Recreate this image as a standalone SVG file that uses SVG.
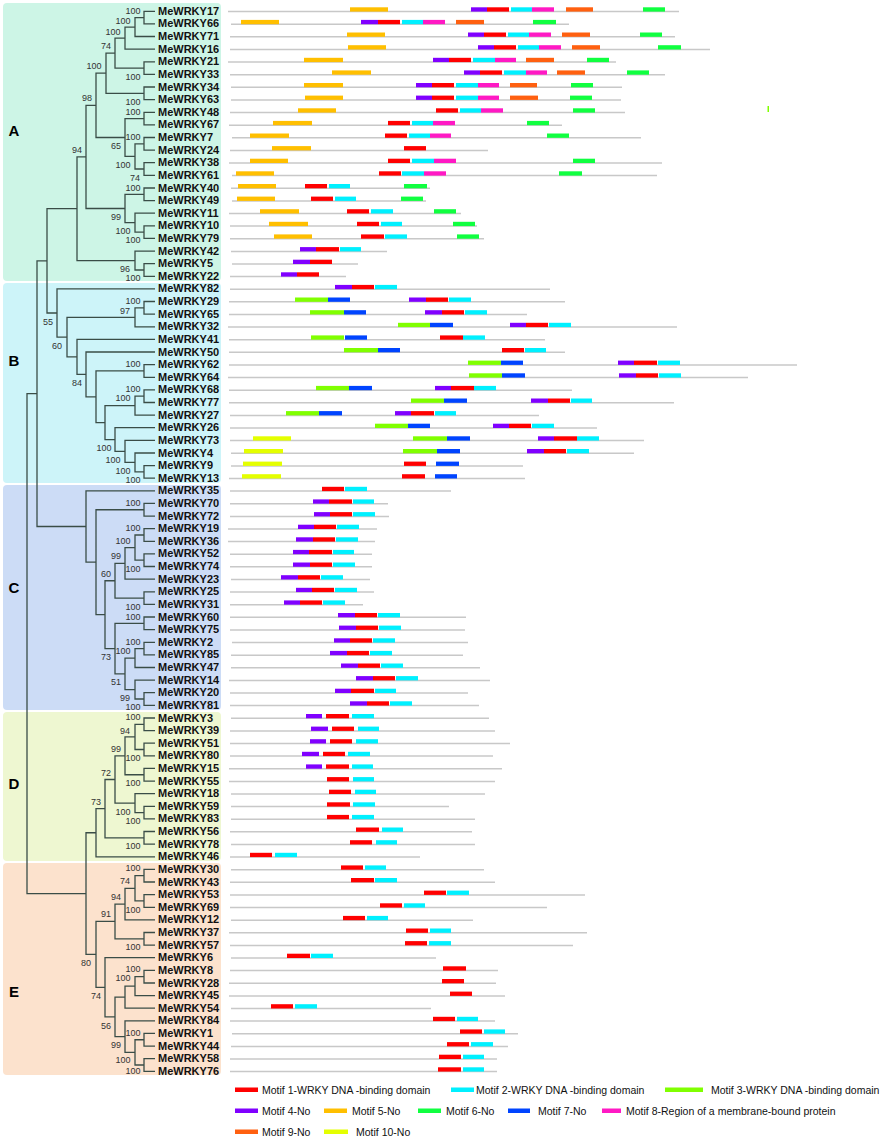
<svg xmlns="http://www.w3.org/2000/svg" width="884" height="1138" viewBox="0 0 884 1138">
<style>
.ln{stroke:#c8c8c8;stroke-width:1.5;fill:none}
.tr{stroke:#3a4d47;stroke-width:1.3;fill:none}
.lb{font-family:"Liberation Sans",Arial,sans-serif;font-weight:bold;font-size:11px;fill:#111}
.bs{font-family:"Liberation Sans",Arial,sans-serif;font-size:9px;fill:#333;text-anchor:middle}
.gl{font-family:"Liberation Sans",Arial,sans-serif;font-weight:bold;font-size:15px;fill:#000;text-anchor:middle}
.lg{font-family:"Liberation Sans",Arial,sans-serif;font-size:10.5px;fill:#111}
.m1{fill:#ff0000}.m2{fill:#00f0ff}.m3{fill:#80ff00}.m4{fill:#8000ff}.m5{fill:#ffbf00}
.m6{fill:#10ff40}.m7{fill:#0044ff}.m8{fill:#ff19c4}.m9{fill:#ff6010}.m10{fill:#e4ff00}
</style>
<g id="panels">
<rect x="3" y="3" width="218" height="278" rx="4" fill="#cdf5e6"/>
<rect x="3" y="283" width="218" height="200" rx="4" fill="#cdf4f9"/>
<rect x="3" y="485" width="218" height="225" rx="4" fill="#ccdcf6"/>
<rect x="3" y="712" width="218" height="149" rx="4" fill="#eef7d1"/>
<rect x="3" y="863" width="218" height="212" rx="4" fill="#fce2cd"/>
<text class="gl" x="14" y="135.5">A</text>
<text class="gl" x="14" y="365.5">B</text>
<text class="gl" x="14" y="592.5">C</text>
<text class="gl" x="14" y="788.5">D</text>
<text class="gl" x="14" y="996.5">E</text>
</g>
<g id="connectors" class="tr">
<path d="M155 11.3H144V23.9H155M144 17.6H135V36.5H155M135 27.05H125V49.2H155M155 61.8H144V74.4H155M125 38.1H115V68.1H144M155 87H144V99.6H155M115 53.1H106V93.3H144M155 112.3H144V124.9H155M155 137.5H144V150.1H155M155 162.7H144V175.3H155M144 143.8H135V169H144M144 118.6H125V156.4H135M106 73.2H96V137.5H125M155 188H144V200.6H155M155 225.8H144V238.4H155M155 213.2H135V232.1H144M144 194.3H125V222.65H135M96 105.35H86V208.5H125M155 263.7H144V276.3H155M155 251.1H135V270H144M86 156.9H77V260.55H135"/>
<path d="M155 301.5H144V314.2H155M144 307.85H135V326.8H155M155 364.6H144V377.3H155M155 389.9H144V402.5H155M144 396.2H135V415.1H155M155 465.6H144V478.2H155M155 453H135V471.9H144M155 440.3H125V462.45H135M155 427.7H115V451.4H125M135 405.65H105V439.55H115M144 370.95H96V422.6H105M155 352H86V396.8H96M155 339.4H77V374.4H86M135 317.3H67V356.9H77M155 288.9H57V337.1H67M77 208.7H47V313H57"/>
<path d="M155 503.4H144V516.1H155M155 528.7H144V541.3H155M155 553.9H144V566.5H155M144 535H135V560.2H144M135 547.6H125V579.2H155M155 591.8H144V604.4H155M125 563.4H115V598.1H144M155 617H144V629.6H155M155 642.3H144V654.9H155M144 648.6H135V667.5H155M155 692.7H144V705.3H155M155 680.1H135V699H144M135 658.05H125V689.55H135M144 623.3H115V673.8H125M115 580.75H105V648.55H115M144 509.75H96V614.65H105M155 490.8H86V562.2H96M47 260.85H37V526.5H86"/>
<path d="M155 718H144V730.6H155M155 743.2H144V755.8H155M144 724.3H135V749.5H144M135 736.9H125V774.75H144M155 768.4H144V781.1H155M155 806.3H144V818.9H155M155 793.7H135V812.6H144M125 755.8H115V803.15H135M155 831.5H144V844.2H155M115 779.5H105V837.85H144M105 808.7H96V856.8H155"/>
<path d="M155 869.4H144V882H155M155 894.6H144V907.3H155M144 875.7H135V900.95H144M135 888.3H125V919.9H155M155 932.5H144V945.1H155M125 904.1H115V938.8H144M155 970.3H144V983H155M144 976.65H135V995.6H155M135 986.1H125V1008.2H155M155 1033.4H144V1046.1H155M155 1058.7H144V1071.3H155M144 1039.75H135V1065H144M155 1020.8H125V1052.4H135M125 997.15H115V1036.6H125M155 957.7H105V1016.9H115M115 921.45H96V987.3H105M96 832.75H86V954.4H96M37 393.7H27V893.6H86"/>
</g>
<g id="support">
<text class="bs" x="133" y="14">100</text><text class="bs" x="123" y="24">100</text><text class="bs" x="113" y="35">100</text><text class="bs" x="106" y="49">74</text><text class="bs" x="94" y="69">100</text><text class="bs" x="133" y="80">100</text><text class="bs" x="87" y="101">98</text><text class="bs" x="133" y="105">100</text><text class="bs" x="133" y="115">100</text><text class="bs" x="77" y="153">94</text><text class="bs" x="116" y="149">65</text><text class="bs" x="133" y="140">100</text><text class="bs" x="123" y="168">100</text><text class="bs" x="135" y="181">74</text><text class="bs" x="133" y="191">100</text><text class="bs" x="116" y="220">99</text><text class="bs" x="123" y="234">100</text><text class="bs" x="133" y="243">100</text><text class="bs" x="125" y="272">96</text><text class="bs" x="133" y="281">100</text>
<text class="bs" x="133" y="304">100</text><text class="bs" x="125" y="314">97</text><text class="bs" x="48" y="325">55</text><text class="bs" x="57" y="349">60</text><text class="bs" x="133" y="367">100</text><text class="bs" x="77" y="386">84</text><text class="bs" x="133" y="392">100</text><text class="bs" x="123" y="401">100</text><text class="bs" x="104" y="451">100</text><text class="bs" x="113" y="463">100</text><text class="bs" x="123" y="474">100</text><text class="bs" x="133" y="483">100</text>
<text class="bs" x="133" y="506">100</text><text class="bs" x="133" y="531">100</text><text class="bs" x="123" y="544">100</text><text class="bs" x="116" y="559">99</text><text class="bs" x="106" y="577">60</text><text class="bs" x="133" y="572">100</text><text class="bs" x="133" y="610">100</text><text class="bs" x="133" y="620">100</text><text class="bs" x="133" y="645">100</text><text class="bs" x="123" y="654">100</text><text class="bs" x="106" y="660">73</text><text class="bs" x="116" y="685">51</text><text class="bs" x="125" y="701">99</text><text class="bs" x="133" y="710">100</text>
<text class="bs" x="133" y="720">100</text><text class="bs" x="125" y="734">94</text><text class="bs" x="116" y="752">99</text><text class="bs" x="133" y="761">100</text><text class="bs" x="106" y="776">72</text><text class="bs" x="133" y="786">100</text><text class="bs" x="96" y="805">73</text><text class="bs" x="123" y="815">100</text><text class="bs" x="133" y="824">100</text><text class="bs" x="133" y="849">100</text>
<text class="bs" x="133" y="871">100</text><text class="bs" x="125" y="884">74</text><text class="bs" x="116" y="900">94</text><text class="bs" x="133" y="913">100</text><text class="bs" x="106" y="917">91</text><text class="bs" x="133" y="950">100</text><text class="bs" x="86" y="966">80</text><text class="bs" x="133" y="972">100</text><text class="bs" x="123" y="981">100</text><text class="bs" x="96" y="999">74</text><text class="bs" x="106" y="1029">56</text><text class="bs" x="133" y="1036">100</text><text class="bs" x="116" y="1048">99</text><text class="bs" x="123" y="1063">100</text><text class="bs" x="133" y="1074">100</text>
</g>
<g id="MeWRKY17" transform="translate(0,10.8)"><text class="lb" x="158" y="4">MeWRKY17</text><path class="ln" d="M228 .8H679"/><rect class="m5" x="350" y="-3.5" width="38" height="4.3"/><rect class="m4" x="471" y="-3.5" width="16" height="4.3"/><rect class="m1" x="487" y="-3.5" width="22" height="4.3"/><rect class="m2" x="511" y="-3.5" width="21" height="4.3"/><rect class="m8" x="532" y="-3.5" width="22" height="4.3"/><rect class="m9" x="566" y="-3.5" width="27" height="4.3"/><rect class="m6" x="643" y="-3.5" width="22" height="4.3"/></g>
<g id="MeWRKY66" transform="translate(0,23.4)"><text class="lb" x="158" y="4">MeWRKY66</text><path class="ln" d="M231 .8H569"/><rect class="m5" x="241" y="-3.5" width="38" height="4.3"/><rect class="m4" x="361" y="-3.5" width="17" height="4.3"/><rect class="m1" x="378" y="-3.5" width="22" height="4.3"/><rect class="m2" x="402" y="-3.5" width="21" height="4.3"/><rect class="m8" x="423" y="-3.5" width="22" height="4.3"/><rect class="m9" x="456" y="-3.5" width="28" height="4.3"/><rect class="m6" x="533" y="-3.5" width="23" height="4.3"/></g>
<g id="MeWRKY71" transform="translate(0,36)"><text class="lb" x="158" y="4">MeWRKY71</text><path class="ln" d="M230 .8H675"/><rect class="m5" x="347" y="-3.5" width="38" height="4.3"/><rect class="m4" x="468" y="-3.5" width="16" height="4.3"/><rect class="m1" x="484" y="-3.5" width="22" height="4.3"/><rect class="m2" x="508" y="-3.5" width="21" height="4.3"/><rect class="m8" x="529" y="-3.5" width="22" height="4.3"/><rect class="m9" x="562" y="-3.5" width="28" height="4.3"/><rect class="m6" x="640" y="-3.5" width="22" height="4.3"/></g>
<g id="MeWRKY16" transform="translate(0,48.7)"><text class="lb" x="158" y="4">MeWRKY16</text><path class="ln" d="M230 .8H710"/><rect class="m5" x="348" y="-3.5" width="38" height="4.3"/><rect class="m4" x="478" y="-3.5" width="16" height="4.3"/><rect class="m1" x="494" y="-3.5" width="22" height="4.3"/><rect class="m2" x="518" y="-3.5" width="21" height="4.3"/><rect class="m8" x="539" y="-3.5" width="22" height="4.3"/><rect class="m9" x="572" y="-3.5" width="28" height="4.3"/><rect class="m6" x="658" y="-3.5" width="23" height="4.3"/></g>
<g id="MeWRKY21" transform="translate(0,61.3)"><text class="lb" x="158" y="4">MeWRKY21</text><path class="ln" d="M228 .8H616"/><rect class="m5" x="304" y="-3.5" width="39" height="4.3"/><rect class="m4" x="433" y="-3.5" width="16" height="4.3"/><rect class="m1" x="449" y="-3.5" width="22" height="4.3"/><rect class="m2" x="473" y="-3.5" width="22" height="4.3"/><rect class="m8" x="495" y="-3.5" width="21" height="4.3"/><rect class="m9" x="526" y="-3.5" width="28" height="4.3"/><rect class="m6" x="587" y="-3.5" width="22" height="4.3"/></g>
<g id="MeWRKY33" transform="translate(0,73.9)"><text class="lb" x="158" y="4">MeWRKY33</text><path class="ln" d="M230 .8H665"/><rect class="m5" x="332" y="-3.5" width="39" height="4.3"/><rect class="m4" x="464" y="-3.5" width="16" height="4.3"/><rect class="m1" x="480" y="-3.5" width="22" height="4.3"/><rect class="m2" x="504" y="-3.5" width="22" height="4.3"/><rect class="m8" x="526" y="-3.5" width="21" height="4.3"/><rect class="m9" x="557" y="-3.5" width="28" height="4.3"/><rect class="m6" x="627" y="-3.5" width="22" height="4.3"/></g>
<g id="MeWRKY34" transform="translate(0,86.5)"><text class="lb" x="158" y="4">MeWRKY34</text><path class="ln" d="M231 .8H622"/><rect class="m5" x="304" y="-3.5" width="39" height="4.3"/><rect class="m4" x="416" y="-3.5" width="16" height="4.3"/><rect class="m1" x="432" y="-3.5" width="22" height="4.3"/><rect class="m2" x="456" y="-3.5" width="22" height="4.3"/><rect class="m8" x="478" y="-3.5" width="21" height="4.3"/><rect class="m9" x="510" y="-3.5" width="27" height="4.3"/><rect class="m6" x="571" y="-3.5" width="22" height="4.3"/></g>
<g id="MeWRKY63" transform="translate(0,99.1)"><text class="lb" x="158" y="4">MeWRKY63</text><path class="ln" d="M231 .8H621"/><rect class="m5" x="305" y="-3.5" width="38" height="4.3"/><rect class="m4" x="416" y="-3.5" width="16" height="4.3"/><rect class="m1" x="432" y="-3.5" width="22" height="4.3"/><rect class="m2" x="456" y="-3.5" width="22" height="4.3"/><rect class="m8" x="478" y="-3.5" width="21" height="4.3"/><rect class="m9" x="510" y="-3.5" width="28" height="4.3"/><rect class="m6" x="570" y="-3.5" width="22" height="4.3"/></g>
<g id="MeWRKY48" transform="translate(0,111.8)"><text class="lb" x="158" y="4">MeWRKY48</text><path class="ln" d="M230 .8H625"/><rect class="m5" x="298" y="-3.5" width="38" height="4.3"/><rect class="m1" x="436" y="-3.5" width="22" height="4.3"/><rect class="m2" x="460" y="-3.5" width="21" height="4.3"/><rect class="m8" x="481" y="-3.5" width="22" height="4.3"/><rect class="m6" x="573" y="-3.5" width="22" height="4.3"/></g>
<g id="MeWRKY67" transform="translate(0,124.4)"><text class="lb" x="158" y="4">MeWRKY67</text><path class="ln" d="M229 .8H562"/><rect class="m5" x="273" y="-3.5" width="39" height="4.3"/><rect class="m1" x="388" y="-3.5" width="22" height="4.3"/><rect class="m2" x="412" y="-3.5" width="21" height="4.3"/><rect class="m8" x="433" y="-3.5" width="22" height="4.3"/><rect class="m6" x="527" y="-3.5" width="22" height="4.3"/></g>
<g id="MeWRKY7" transform="translate(0,137)"><text class="lb" x="158" y="4">MeWRKY7</text><path class="ln" d="M232 .8H641"/><rect class="m5" x="250" y="-3.5" width="39" height="4.3"/><rect class="m1" x="385" y="-3.5" width="22" height="4.3"/><rect class="m2" x="409" y="-3.5" width="21" height="4.3"/><rect class="m8" x="430" y="-3.5" width="21" height="4.3"/><rect class="m6" x="547" y="-3.5" width="22" height="4.3"/></g>
<g id="MeWRKY24" transform="translate(0,149.6)"><text class="lb" x="158" y="4">MeWRKY24</text><path class="ln" d="M230 .8H488"/><rect class="m5" x="272" y="-3.5" width="39" height="4.3"/><rect class="m1" x="404" y="-3.5" width="22" height="4.3"/></g>
<g id="MeWRKY38" transform="translate(0,162.2)"><text class="lb" x="158" y="4">MeWRKY38</text><path class="ln" d="M229 .8H662"/><rect class="m5" x="250" y="-3.5" width="38" height="4.3"/><rect class="m1" x="388" y="-3.5" width="22" height="4.3"/><rect class="m2" x="412" y="-3.5" width="22" height="4.3"/><rect class="m8" x="434" y="-3.5" width="22" height="4.3"/><rect class="m6" x="573" y="-3.5" width="22" height="4.3"/></g>
<g id="MeWRKY61" transform="translate(0,174.8)"><text class="lb" x="158" y="4">MeWRKY61</text><path class="ln" d="M232 .8H657"/><rect class="m5" x="236" y="-3.5" width="38" height="4.3"/><rect class="m1" x="379" y="-3.5" width="22" height="4.3"/><rect class="m2" x="402" y="-3.5" width="22" height="4.3"/><rect class="m8" x="424" y="-3.5" width="22" height="4.3"/><rect class="m6" x="559" y="-3.5" width="23" height="4.3"/></g>
<g id="MeWRKY40" transform="translate(0,187.5)"><text class="lb" x="158" y="4">MeWRKY40</text><path class="ln" d="M231 .8H430"/><rect class="m5" x="238" y="-3.5" width="38" height="4.3"/><rect class="m1" x="305" y="-3.5" width="22" height="4.3"/><rect class="m2" x="329" y="-3.5" width="21" height="4.3"/><rect class="m6" x="404" y="-3.5" width="23" height="4.3"/></g>
<g id="MeWRKY49" transform="translate(0,200.1)"><text class="lb" x="158" y="4">MeWRKY49</text><path class="ln" d="M232 .8H426"/><rect class="m5" x="237" y="-3.5" width="38" height="4.3"/><rect class="m1" x="311" y="-3.5" width="22" height="4.3"/><rect class="m2" x="335" y="-3.5" width="21" height="4.3"/><rect class="m6" x="401" y="-3.5" width="22" height="4.3"/></g>
<g id="MeWRKY11" transform="translate(0,212.7)"><text class="lb" x="158" y="4">MeWRKY11</text><path class="ln" d="M229 .8H461"/><rect class="m5" x="260" y="-3.5" width="39" height="4.3"/><rect class="m1" x="347" y="-3.5" width="22" height="4.3"/><rect class="m2" x="371" y="-3.5" width="22" height="4.3"/><rect class="m6" x="434" y="-3.5" width="22" height="4.3"/></g>
<g id="MeWRKY10" transform="translate(0,225.3)"><text class="lb" x="158" y="4">MeWRKY10</text><path class="ln" d="M230 .8H477"/><rect class="m5" x="269" y="-3.5" width="39" height="4.3"/><rect class="m1" x="357" y="-3.5" width="22" height="4.3"/><rect class="m2" x="381" y="-3.5" width="21" height="4.3"/><rect class="m6" x="453" y="-3.5" width="22" height="4.3"/></g>
<g id="MeWRKY79" transform="translate(0,237.9)"><text class="lb" x="158" y="4">MeWRKY79</text><path class="ln" d="M230 .8H484"/><rect class="m5" x="274" y="-3.5" width="38" height="4.3"/><rect class="m1" x="361" y="-3.5" width="23" height="4.3"/><rect class="m2" x="385" y="-3.5" width="22" height="4.3"/><rect class="m6" x="457" y="-3.5" width="22" height="4.3"/></g>
<g id="MeWRKY42" transform="translate(0,250.6)"><text class="lb" x="158" y="4">MeWRKY42</text><path class="ln" d="M231 .8H387"/><rect class="m4" x="300" y="-3.5" width="16" height="4.3"/><rect class="m1" x="316" y="-3.5" width="23" height="4.3"/><rect class="m2" x="340" y="-3.5" width="21" height="4.3"/></g>
<g id="MeWRKY5" transform="translate(0,263.2)"><text class="lb" x="158" y="4">MeWRKY5</text><path class="ln" d="M232 .8H358"/><rect class="m4" x="293" y="-3.5" width="17" height="4.3"/><rect class="m1" x="310" y="-3.5" width="22" height="4.3"/></g>
<g id="MeWRKY22" transform="translate(0,275.8)"><text class="lb" x="158" y="4">MeWRKY22</text><path class="ln" d="M230 .8H346"/><rect class="m4" x="281" y="-3.5" width="16" height="4.3"/><rect class="m1" x="297" y="-3.5" width="22" height="4.3"/></g>
<g id="MeWRKY82" transform="translate(0,288.4)"><text class="lb" x="158" y="4">MeWRKY82</text><path class="ln" d="M230 .8H550"/><rect class="m4" x="335" y="-3.5" width="17" height="4.3"/><rect class="m1" x="352" y="-3.5" width="22" height="4.3"/><rect class="m2" x="375" y="-3.5" width="22" height="4.3"/></g>
<g id="MeWRKY29" transform="translate(0,301)"><text class="lb" x="158" y="4">MeWRKY29</text><path class="ln" d="M229 .8H565"/><rect class="m3" x="295" y="-3.5" width="33" height="4.3"/><rect class="m7" x="328" y="-3.5" width="22" height="4.3"/><rect class="m4" x="409" y="-3.5" width="17" height="4.3"/><rect class="m1" x="426" y="-3.5" width="22" height="4.3"/><rect class="m2" x="449" y="-3.5" width="22" height="4.3"/></g>
<g id="MeWRKY65" transform="translate(0,313.7)"><text class="lb" x="158" y="4">MeWRKY65</text><path class="ln" d="M229 .8H527"/><rect class="m3" x="310" y="-3.5" width="34" height="4.3"/><rect class="m7" x="344" y="-3.5" width="22" height="4.3"/><rect class="m4" x="425" y="-3.5" width="17" height="4.3"/><rect class="m1" x="442" y="-3.5" width="22" height="4.3"/><rect class="m2" x="465" y="-3.5" width="22" height="4.3"/></g>
<g id="MeWRKY32" transform="translate(0,326.3)"><text class="lb" x="158" y="4">MeWRKY32</text><path class="ln" d="M228 .8H677"/><rect class="m3" x="398" y="-3.5" width="32" height="4.3"/><rect class="m7" x="430" y="-3.5" width="23" height="4.3"/><rect class="m4" x="510" y="-3.5" width="16" height="4.3"/><rect class="m1" x="526" y="-3.5" width="22" height="4.3"/><rect class="m2" x="549" y="-3.5" width="22" height="4.3"/></g>
<g id="MeWRKY41" transform="translate(0,338.9)"><text class="lb" x="158" y="4">MeWRKY41</text><path class="ln" d="M229 .8H545"/><rect class="m3" x="311" y="-3.5" width="33" height="4.3"/><rect class="m7" x="345" y="-3.5" width="22" height="4.3"/><rect class="m1" x="440" y="-3.5" width="23" height="4.3"/><rect class="m2" x="463" y="-3.5" width="22" height="4.3"/></g>
<g id="MeWRKY50" transform="translate(0,351.5)"><text class="lb" x="158" y="4">MeWRKY50</text><path class="ln" d="M229 .8H565"/><rect class="m3" x="344" y="-3.5" width="34" height="4.3"/><rect class="m7" x="378" y="-3.5" width="22" height="4.3"/><rect class="m1" x="502" y="-3.5" width="22" height="4.3"/><rect class="m2" x="525" y="-3.5" width="21" height="4.3"/></g>
<g id="MeWRKY62" transform="translate(0,364.1)"><text class="lb" x="158" y="4">MeWRKY62</text><path class="ln" d="M229 .8H797"/><rect class="m3" x="468" y="-3.5" width="33" height="4.3"/><rect class="m7" x="501" y="-3.5" width="22" height="4.3"/><rect class="m4" x="618" y="-3.5" width="16" height="4.3"/><rect class="m1" x="634" y="-3.5" width="23" height="4.3"/><rect class="m2" x="658" y="-3.5" width="22" height="4.3"/></g>
<g id="MeWRKY64" transform="translate(0,376.8)"><text class="lb" x="158" y="4">MeWRKY64</text><path class="ln" d="M228 .8H748"/><rect class="m3" x="469" y="-3.5" width="33" height="4.3"/><rect class="m7" x="502" y="-3.5" width="23" height="4.3"/><rect class="m4" x="619" y="-3.5" width="17" height="4.3"/><rect class="m1" x="636" y="-3.5" width="22" height="4.3"/><rect class="m2" x="659" y="-3.5" width="22" height="4.3"/></g>
<g id="MeWRKY68" transform="translate(0,389.4)"><text class="lb" x="158" y="4">MeWRKY68</text><path class="ln" d="M229 .8H572"/><rect class="m3" x="316" y="-3.5" width="33" height="4.3"/><rect class="m7" x="349" y="-3.5" width="23" height="4.3"/><rect class="m4" x="435" y="-3.5" width="16" height="4.3"/><rect class="m1" x="451" y="-3.5" width="23" height="4.3"/><rect class="m2" x="474" y="-3.5" width="22" height="4.3"/></g>
<g id="MeWRKY77" transform="translate(0,402)"><text class="lb" x="158" y="4">MeWRKY77</text><path class="ln" d="M229 .8H674"/><rect class="m3" x="411" y="-3.5" width="33" height="4.3"/><rect class="m7" x="444" y="-3.5" width="23" height="4.3"/><rect class="m4" x="531" y="-3.5" width="17" height="4.3"/><rect class="m1" x="548" y="-3.5" width="22" height="4.3"/><rect class="m2" x="571" y="-3.5" width="21" height="4.3"/></g>
<g id="MeWRKY27" transform="translate(0,414.6)"><text class="lb" x="158" y="4">MeWRKY27</text><path class="ln" d="M230 .8H539"/><rect class="m3" x="286" y="-3.5" width="33" height="4.3"/><rect class="m7" x="319" y="-3.5" width="23" height="4.3"/><rect class="m4" x="395" y="-3.5" width="16" height="4.3"/><rect class="m1" x="411" y="-3.5" width="23" height="4.3"/><rect class="m2" x="435" y="-3.5" width="21" height="4.3"/></g>
<g id="MeWRKY26" transform="translate(0,427.2)"><text class="lb" x="158" y="4">MeWRKY26</text><path class="ln" d="M230 .8H597"/><rect class="m3" x="375" y="-3.5" width="33" height="4.3"/><rect class="m7" x="408" y="-3.5" width="22" height="4.3"/><rect class="m4" x="493" y="-3.5" width="16" height="4.3"/><rect class="m1" x="509" y="-3.5" width="22" height="4.3"/><rect class="m2" x="532" y="-3.5" width="22" height="4.3"/></g>
<g id="MeWRKY73" transform="translate(0,439.8)"><text class="lb" x="158" y="4">MeWRKY73</text><path class="ln" d="M230 .8H644"/><rect class="m10" x="253" y="-3.5" width="38" height="4.3"/><rect class="m3" x="413" y="-3.5" width="34" height="4.3"/><rect class="m7" x="447" y="-3.5" width="23" height="4.3"/><rect class="m4" x="538" y="-3.5" width="16" height="4.3"/><rect class="m1" x="554" y="-3.5" width="23" height="4.3"/><rect class="m2" x="577" y="-3.5" width="22" height="4.3"/></g>
<g id="MeWRKY4" transform="translate(0,452.5)"><text class="lb" x="158" y="4">MeWRKY4</text><path class="ln" d="M231 .8H634"/><rect class="m10" x="244" y="-3.5" width="39" height="4.3"/><rect class="m3" x="403" y="-3.5" width="34" height="4.3"/><rect class="m7" x="437" y="-3.5" width="23" height="4.3"/><rect class="m4" x="527" y="-3.5" width="17" height="4.3"/><rect class="m1" x="544" y="-3.5" width="22" height="4.3"/><rect class="m2" x="567" y="-3.5" width="22" height="4.3"/></g>
<g id="MeWRKY9" transform="translate(0,465.1)"><text class="lb" x="158" y="4">MeWRKY9</text><path class="ln" d="M231 .8H523"/><rect class="m10" x="243" y="-3.5" width="39" height="4.3"/><rect class="m1" x="404" y="-3.5" width="22" height="4.3"/><rect class="m7" x="436" y="-3.5" width="23" height="4.3"/></g>
<g id="MeWRKY13" transform="translate(0,477.7)"><text class="lb" x="158" y="4">MeWRKY13</text><path class="ln" d="M229 .8H525"/><rect class="m10" x="242" y="-3.5" width="39" height="4.3"/><rect class="m1" x="402" y="-3.5" width="23" height="4.3"/><rect class="m7" x="435" y="-3.5" width="22" height="4.3"/></g>
<g id="MeWRKY35" transform="translate(0,490.3)"><text class="lb" x="158" y="4">MeWRKY35</text><path class="ln" d="M230 .8H451"/><rect class="m1" x="322" y="-3.5" width="22" height="4.3"/><rect class="m2" x="345" y="-3.5" width="22" height="4.3"/></g>
<g id="MeWRKY70" transform="translate(0,502.9)"><text class="lb" x="158" y="4">MeWRKY70</text><path class="ln" d="M230 .8H388"/><rect class="m4" x="313" y="-3.5" width="16" height="4.3"/><rect class="m1" x="329" y="-3.5" width="23" height="4.3"/><rect class="m2" x="353" y="-3.5" width="21" height="4.3"/></g>
<g id="MeWRKY72" transform="translate(0,515.6)"><text class="lb" x="158" y="4">MeWRKY72</text><path class="ln" d="M230 .8H389"/><rect class="m4" x="314" y="-3.5" width="16" height="4.3"/><rect class="m1" x="330" y="-3.5" width="22" height="4.3"/><rect class="m2" x="353" y="-3.5" width="22" height="4.3"/></g>
<g id="MeWRKY19" transform="translate(0,528.2)"><text class="lb" x="158" y="4">MeWRKY19</text><path class="ln" d="M228 .8H377"/><rect class="m4" x="298" y="-3.5" width="16" height="4.3"/><rect class="m1" x="314" y="-3.5" width="22" height="4.3"/><rect class="m2" x="337" y="-3.5" width="22" height="4.3"/></g>
<g id="MeWRKY36" transform="translate(0,540.8)"><text class="lb" x="158" y="4">MeWRKY36</text><path class="ln" d="M228 .8H375"/><rect class="m4" x="296" y="-3.5" width="17" height="4.3"/><rect class="m1" x="313" y="-3.5" width="22" height="4.3"/><rect class="m2" x="336" y="-3.5" width="22" height="4.3"/></g>
<g id="MeWRKY52" transform="translate(0,553.4)"><text class="lb" x="158" y="4">MeWRKY52</text><path class="ln" d="M230 .8H372"/><rect class="m4" x="293" y="-3.5" width="16" height="4.3"/><rect class="m1" x="309" y="-3.5" width="23" height="4.3"/><rect class="m2" x="333" y="-3.5" width="21" height="4.3"/></g>
<g id="MeWRKY74" transform="translate(0,566)"><text class="lb" x="158" y="4">MeWRKY74</text><path class="ln" d="M230 .8H372"/><rect class="m4" x="293" y="-3.5" width="17" height="4.3"/><rect class="m1" x="310" y="-3.5" width="22" height="4.3"/><rect class="m2" x="333" y="-3.5" width="22" height="4.3"/></g>
<g id="MeWRKY23" transform="translate(0,578.7)"><text class="lb" x="158" y="4">MeWRKY23</text><path class="ln" d="M231 .8H370"/><rect class="m4" x="281" y="-3.5" width="17" height="4.3"/><rect class="m1" x="298" y="-3.5" width="22" height="4.3"/><rect class="m2" x="321" y="-3.5" width="22" height="4.3"/></g>
<g id="MeWRKY25" transform="translate(0,591.3)"><text class="lb" x="158" y="4">MeWRKY25</text><path class="ln" d="M230 .8H374"/><rect class="m4" x="296" y="-3.5" width="16" height="4.3"/><rect class="m1" x="312" y="-3.5" width="22" height="4.3"/><rect class="m2" x="335" y="-3.5" width="22" height="4.3"/></g>
<g id="MeWRKY31" transform="translate(0,603.9)"><text class="lb" x="158" y="4">MeWRKY31</text><path class="ln" d="M230 .8H363"/><rect class="m4" x="284" y="-3.5" width="16" height="4.3"/><rect class="m1" x="300" y="-3.5" width="22" height="4.3"/><rect class="m2" x="323" y="-3.5" width="22" height="4.3"/></g>
<g id="MeWRKY60" transform="translate(0,616.5)"><text class="lb" x="158" y="4">MeWRKY60</text><path class="ln" d="M230 .8H466"/><rect class="m4" x="338" y="-3.5" width="17" height="4.3"/><rect class="m1" x="355" y="-3.5" width="22" height="4.3"/><rect class="m2" x="378" y="-3.5" width="22" height="4.3"/></g>
<g id="MeWRKY75" transform="translate(0,629.1)"><text class="lb" x="158" y="4">MeWRKY75</text><path class="ln" d="M230 .8H465"/><rect class="m4" x="339" y="-3.5" width="17" height="4.3"/><rect class="m1" x="356" y="-3.5" width="22" height="4.3"/><rect class="m2" x="379" y="-3.5" width="22" height="4.3"/></g>
<g id="MeWRKY2" transform="translate(0,641.8)"><text class="lb" x="158" y="4">MeWRKY2</text><path class="ln" d="M232 .8H468"/><rect class="m4" x="334" y="-3.5" width="16" height="4.3"/><rect class="m1" x="350" y="-3.5" width="22" height="4.3"/><rect class="m2" x="373" y="-3.5" width="22" height="4.3"/></g>
<g id="MeWRKY85" transform="translate(0,654.4)"><text class="lb" x="158" y="4">MeWRKY85</text><path class="ln" d="M231 .8H463"/><rect class="m4" x="330" y="-3.5" width="17" height="4.3"/><rect class="m1" x="347" y="-3.5" width="22" height="4.3"/><rect class="m2" x="370" y="-3.5" width="22" height="4.3"/></g>
<g id="MeWRKY47" transform="translate(0,667)"><text class="lb" x="158" y="4">MeWRKY47</text><path class="ln" d="M231 .8H480"/><rect class="m4" x="341" y="-3.5" width="17" height="4.3"/><rect class="m1" x="358" y="-3.5" width="22" height="4.3"/><rect class="m2" x="381" y="-3.5" width="22" height="4.3"/></g>
<g id="MeWRKY14" transform="translate(0,679.6)"><text class="lb" x="158" y="4">MeWRKY14</text><path class="ln" d="M229 .8H490"/><rect class="m4" x="356" y="-3.5" width="17" height="4.3"/><rect class="m1" x="373" y="-3.5" width="22" height="4.3"/><rect class="m2" x="396" y="-3.5" width="22" height="4.3"/></g>
<g id="MeWRKY20" transform="translate(0,692.2)"><text class="lb" x="158" y="4">MeWRKY20</text><path class="ln" d="M230 .8H468"/><rect class="m4" x="335" y="-3.5" width="16" height="4.3"/><rect class="m1" x="351" y="-3.5" width="23" height="4.3"/><rect class="m2" x="375" y="-3.5" width="21" height="4.3"/></g>
<g id="MeWRKY81" transform="translate(0,704.8)"><text class="lb" x="158" y="4">MeWRKY81</text><path class="ln" d="M230 .8H479"/><rect class="m4" x="350" y="-3.5" width="17" height="4.3"/><rect class="m1" x="367" y="-3.5" width="22" height="4.3"/><rect class="m2" x="390" y="-3.5" width="22" height="4.3"/></g>
<g id="MeWRKY3" transform="translate(0,717.5)"><text class="lb" x="158" y="4">MeWRKY3</text><path class="ln" d="M231 .8H489"/><rect class="m4" x="306" y="-3.5" width="16" height="4.3"/><rect class="m1" x="326" y="-3.5" width="23" height="4.3"/><rect class="m2" x="352" y="-3.5" width="22" height="4.3"/></g>
<g id="MeWRKY39" transform="translate(0,730.1)"><text class="lb" x="158" y="4">MeWRKY39</text><path class="ln" d="M230 .8H495"/><rect class="m4" x="311" y="-3.5" width="17" height="4.3"/><rect class="m1" x="332" y="-3.5" width="22" height="4.3"/><rect class="m2" x="358" y="-3.5" width="21" height="4.3"/></g>
<g id="MeWRKY51" transform="translate(0,742.7)"><text class="lb" x="158" y="4">MeWRKY51</text><path class="ln" d="M230 .8H510"/><rect class="m4" x="310" y="-3.5" width="16" height="4.3"/><rect class="m1" x="330" y="-3.5" width="22" height="4.3"/><rect class="m2" x="356" y="-3.5" width="22" height="4.3"/></g>
<g id="MeWRKY80" transform="translate(0,755.3)"><text class="lb" x="158" y="4">MeWRKY80</text><path class="ln" d="M230 .8H493"/><rect class="m4" x="302" y="-3.5" width="17" height="4.3"/><rect class="m1" x="323" y="-3.5" width="22" height="4.3"/><rect class="m2" x="348" y="-3.5" width="22" height="4.3"/></g>
<g id="MeWRKY15" transform="translate(0,767.9)"><text class="lb" x="158" y="4">MeWRKY15</text><path class="ln" d="M229 .8H502"/><rect class="m4" x="306" y="-3.5" width="16" height="4.3"/><rect class="m1" x="326" y="-3.5" width="23" height="4.3"/><rect class="m2" x="352" y="-3.5" width="21" height="4.3"/></g>
<g id="MeWRKY55" transform="translate(0,780.6)"><text class="lb" x="158" y="4">MeWRKY55</text><path class="ln" d="M229 .8H495"/><rect class="m1" x="327" y="-3.5" width="22" height="4.3"/><rect class="m2" x="353" y="-3.5" width="21" height="4.3"/></g>
<g id="MeWRKY18" transform="translate(0,793.2)"><text class="lb" x="158" y="4">MeWRKY18</text><path class="ln" d="M231 .8H485"/><rect class="m1" x="329" y="-3.5" width="22" height="4.3"/><rect class="m2" x="355" y="-3.5" width="21" height="4.3"/></g>
<g id="MeWRKY59" transform="translate(0,805.8)"><text class="lb" x="158" y="4">MeWRKY59</text><path class="ln" d="M231 .8H449"/><rect class="m1" x="327" y="-3.5" width="23" height="4.3"/><rect class="m2" x="353" y="-3.5" width="22" height="4.3"/></g>
<g id="MeWRKY83" transform="translate(0,818.4)"><text class="lb" x="158" y="4">MeWRKY83</text><path class="ln" d="M231 .8H475"/><rect class="m1" x="327" y="-3.5" width="22" height="4.3"/><rect class="m2" x="352" y="-3.5" width="22" height="4.3"/></g>
<g id="MeWRKY56" transform="translate(0,831)"><text class="lb" x="158" y="4">MeWRKY56</text><path class="ln" d="M230 .8H472"/><rect class="m1" x="356" y="-3.5" width="23" height="4.3"/><rect class="m2" x="382" y="-3.5" width="21" height="4.3"/></g>
<g id="MeWRKY78" transform="translate(0,843.7)"><text class="lb" x="158" y="4">MeWRKY78</text><path class="ln" d="M231 .8H475"/><rect class="m1" x="350" y="-3.5" width="22" height="4.3"/><rect class="m2" x="376" y="-3.5" width="21" height="4.3"/></g>
<g id="MeWRKY46" transform="translate(0,856.3)"><text class="lb" x="158" y="4">MeWRKY46</text><path class="ln" d="M230 .8H420"/><rect class="m1" x="250" y="-3.5" width="22" height="4.3"/><rect class="m2" x="275" y="-3.5" width="22" height="4.3"/></g>
<g id="MeWRKY30" transform="translate(0,868.9)"><text class="lb" x="158" y="4">MeWRKY30</text><path class="ln" d="M231 .8H484"/><rect class="m1" x="341" y="-3.5" width="22" height="4.3"/><rect class="m2" x="365" y="-3.5" width="21" height="4.3"/></g>
<g id="MeWRKY43" transform="translate(0,881.5)"><text class="lb" x="158" y="4">MeWRKY43</text><path class="ln" d="M230 .8H495"/><rect class="m1" x="351" y="-3.5" width="23" height="4.3"/><rect class="m2" x="375" y="-3.5" width="22" height="4.3"/></g>
<g id="MeWRKY53" transform="translate(0,894.1)"><text class="lb" x="158" y="4">MeWRKY53</text><path class="ln" d="M230 .8H585"/><rect class="m1" x="424" y="-3.5" width="22" height="4.3"/><rect class="m2" x="447" y="-3.5" width="22" height="4.3"/></g>
<g id="MeWRKY69" transform="translate(0,906.8)"><text class="lb" x="158" y="4">MeWRKY69</text><path class="ln" d="M230 .8H547"/><rect class="m1" x="380" y="-3.5" width="22" height="4.3"/><rect class="m2" x="404" y="-3.5" width="21" height="4.3"/></g>
<g id="MeWRKY12" transform="translate(0,919.4)"><text class="lb" x="158" y="4">MeWRKY12</text><path class="ln" d="M231 .8H473"/><rect class="m1" x="343" y="-3.5" width="22" height="4.3"/><rect class="m2" x="367" y="-3.5" width="21" height="4.3"/></g>
<g id="MeWRKY37" transform="translate(0,932)"><text class="lb" x="158" y="4">MeWRKY37</text><path class="ln" d="M229 .8H587"/><rect class="m1" x="406" y="-3.5" width="22" height="4.3"/><rect class="m2" x="430" y="-3.5" width="21" height="4.3"/></g>
<g id="MeWRKY57" transform="translate(0,944.6)"><text class="lb" x="158" y="4">MeWRKY57</text><path class="ln" d="M230 .8H573"/><rect class="m1" x="405" y="-3.5" width="22" height="4.3"/><rect class="m2" x="429" y="-3.5" width="22" height="4.3"/></g>
<g id="MeWRKY6" transform="translate(0,957.2)"><text class="lb" x="158" y="4">MeWRKY6</text><path class="ln" d="M231 .8H436"/><rect class="m1" x="287" y="-3.5" width="23" height="4.3"/><rect class="m2" x="311" y="-3.5" width="22" height="4.3"/></g>
<g id="MeWRKY8" transform="translate(0,969.8)"><text class="lb" x="158" y="4">MeWRKY8</text><path class="ln" d="M230 .8H498"/><rect class="m1" x="443" y="-3.5" width="23" height="4.3"/></g>
<g id="MeWRKY28" transform="translate(0,982.5)"><text class="lb" x="158" y="4">MeWRKY28</text><path class="ln" d="M229 .8H496"/><rect class="m1" x="442" y="-3.5" width="22" height="4.3"/></g>
<g id="MeWRKY45" transform="translate(0,995.1)"><text class="lb" x="158" y="4">MeWRKY45</text><path class="ln" d="M229 .8H505"/><rect class="m1" x="450" y="-3.5" width="22" height="4.3"/></g>
<g id="MeWRKY54" transform="translate(0,1007.7)"><text class="lb" x="158" y="4">MeWRKY54</text><path class="ln" d="M231 .8H431"/><rect class="m1" x="271" y="-3.5" width="22" height="4.3"/><rect class="m2" x="295" y="-3.5" width="22" height="4.3"/></g>
<g id="MeWRKY84" transform="translate(0,1020.3)"><text class="lb" x="158" y="4">MeWRKY84</text><path class="ln" d="M230 .8H495"/><rect class="m1" x="433" y="-3.5" width="22" height="4.3"/><rect class="m2" x="457" y="-3.5" width="21" height="4.3"/></g>
<g id="MeWRKY1" transform="translate(0,1032.9)"><text class="lb" x="158" y="4">MeWRKY1</text><path class="ln" d="M232 .8H518"/><rect class="m1" x="460" y="-3.5" width="22" height="4.3"/><rect class="m2" x="484" y="-3.5" width="21" height="4.3"/></g>
<g id="MeWRKY44" transform="translate(0,1045.6)"><text class="lb" x="158" y="4">MeWRKY44</text><path class="ln" d="M231 .8H508"/><rect class="m1" x="447" y="-3.5" width="22" height="4.3"/><rect class="m2" x="471" y="-3.5" width="22" height="4.3"/></g>
<g id="MeWRKY58" transform="translate(0,1058.2)"><text class="lb" x="158" y="4">MeWRKY58</text><path class="ln" d="M230 .8H497"/><rect class="m1" x="439" y="-3.5" width="22" height="4.3"/><rect class="m2" x="463" y="-3.5" width="21" height="4.3"/></g>
<g id="MeWRKY76" transform="translate(0,1070.8)"><text class="lb" x="158" y="4">MeWRKY76</text><path class="ln" d="M230 .8H497"/><rect class="m1" x="438" y="-3.5" width="23" height="4.3"/><rect class="m2" x="463" y="-3.5" width="21" height="4.3"/></g>
<rect class="m3" x="767.5" y="106" width="1.5" height="6"/>
<g id="legend">
<rect class="m1" x="235" y="1087.5" width="23" height="4.5"/><text class="lg" x="262" y="1093.8">Motif 1-WRKY DNA -binding domain</text>
<rect class="m2" x="451" y="1087.5" width="23" height="4.5"/><text class="lg" x="476" y="1093.8">Motif 2-WRKY DNA -binding domain</text>
<rect class="m3" x="665" y="1087.5" width="38" height="4.5"/><text class="lg" x="711" y="1093.8">Motif 3-WRKY DNA -binding domain</text>
<rect class="m4" x="235" y="1108.5" width="23" height="4.5"/><text class="lg" x="262" y="1114.8">Motif 4-No</text>
<rect class="m5" x="324" y="1108.5" width="23" height="4.5"/><text class="lg" x="352" y="1114.8">Motif 5-No</text>
<rect class="m6" x="418" y="1108.5" width="23" height="4.5"/><text class="lg" x="446" y="1114.8">Motif 6-No</text>
<rect class="m7" x="508" y="1108.5" width="22" height="4.5"/><text class="lg" x="538" y="1114.8">Motif 7-No</text>
<rect class="m8" x="602" y="1108.5" width="19" height="4.5"/><text class="lg" x="626" y="1114.8">Motif 8-Region of a membrane-bound protein</text>
<rect class="m9" x="235" y="1129.5" width="23" height="4.5"/><text class="lg" x="262" y="1135.8">Motif 9-No</text>
<rect class="m10" x="324" y="1129.5" width="24" height="4.5"/><text class="lg" x="356" y="1135.8">Motif 10-No</text>
</g>
</svg>
